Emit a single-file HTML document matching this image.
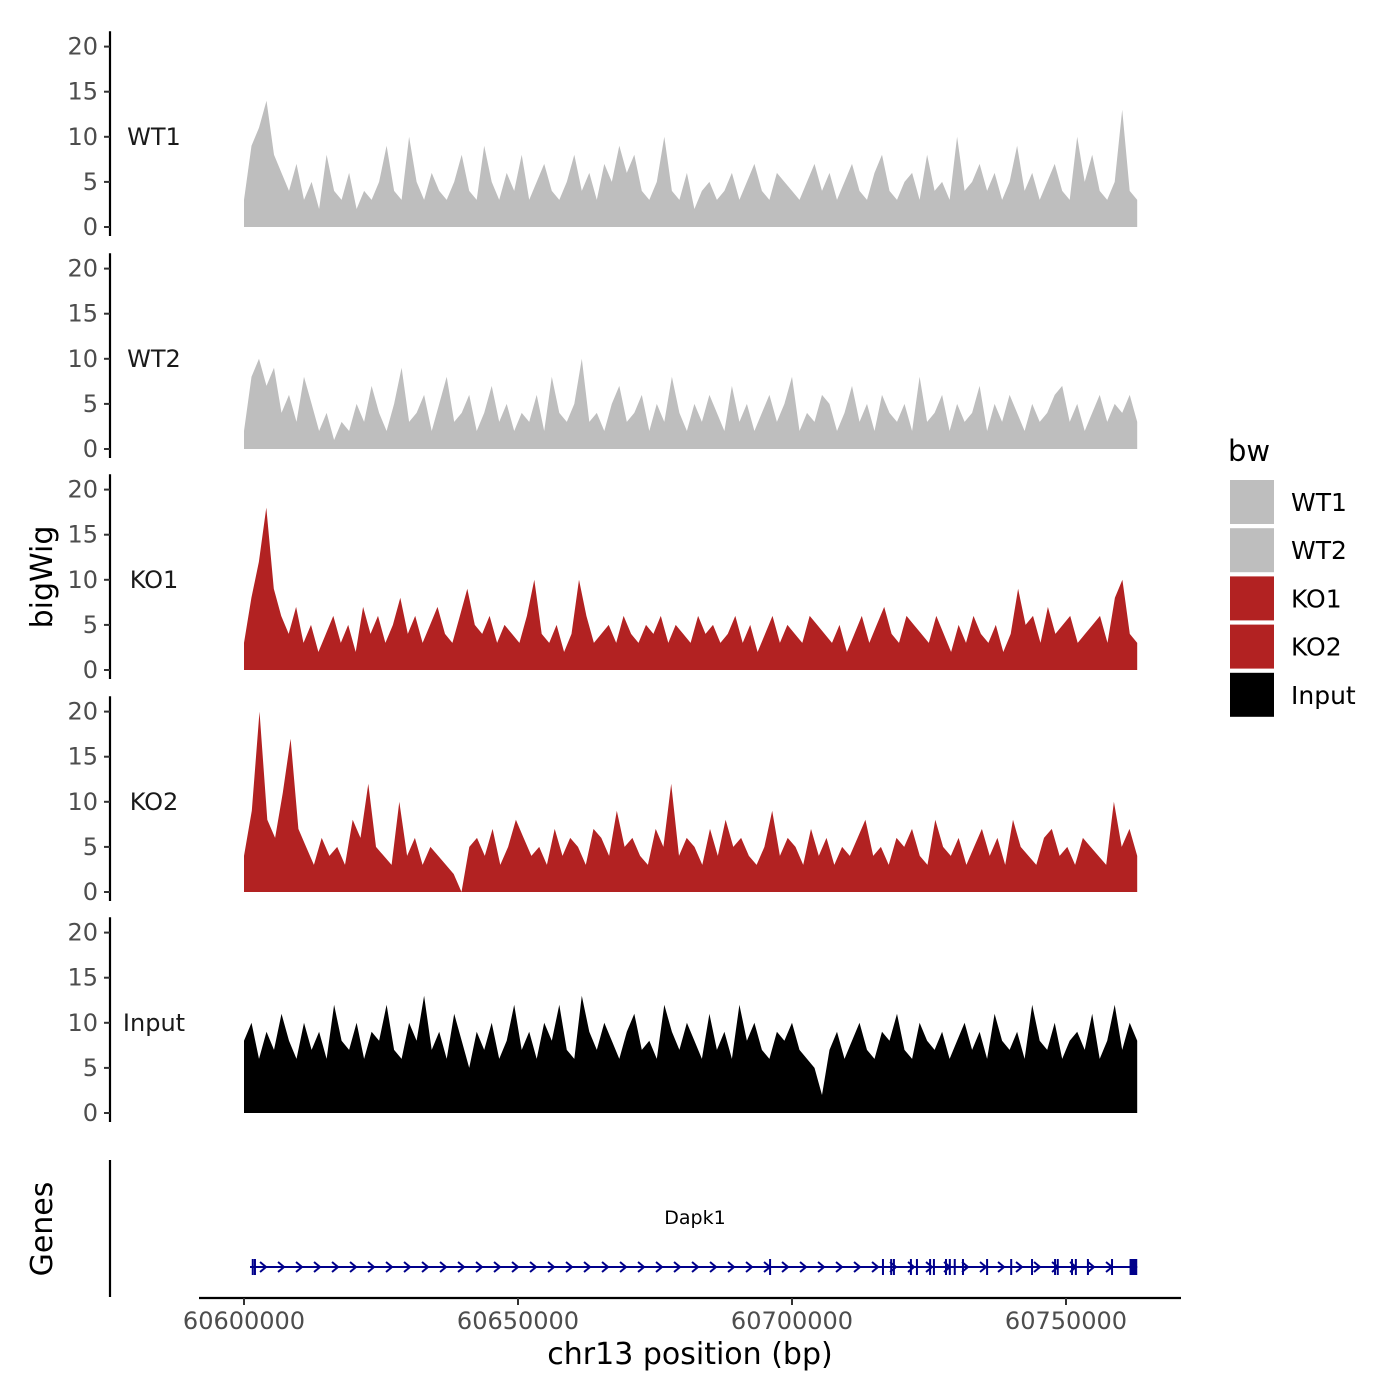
<!DOCTYPE html>
<html><head><meta charset="utf-8">
<style>
body{margin:0;background:#fff;}
svg{display:block;font-family:"DejaVu Sans","Liberation Sans",sans-serif;}
</style></head>
<body>
<svg id="chart" width="1400" height="1400" viewBox="0 0 1400 1400" xmlns="http://www.w3.org/2000/svg">
<rect width="1400" height="1400" fill="#fff"/>
<g id="tracks"></g>
<g id="genes"></g>
<text transform="translate(52,577) rotate(-90)" text-anchor="middle" font-size="30">bigWig</text>
<text transform="translate(52,1229) rotate(-90)" text-anchor="middle" font-size="30">Genes</text>
<text x="690" y="1364" text-anchor="middle" font-size="30">chr13 position (bp)</text>
<g id="legend"></g>
</svg>
<script>
const trackNames = ["WT1","WT2","KO1","KO2","Input"];
const trackColors = ["#bebebe","#bebebe","#b22222","#b22222","#000000"];
const yTicks = [0,5,10,15,20];
const xTicks = [60600000,60650000,60700000,60750000];
const xStart = 60600000, xEnd = 60763000;
const wt1 = [3,9,11,14,8,6,4,7,3,5,2,8,4,3,6,2,4,3,5,9,4,3,10,5,3,6,4,3,5,8,4,3,9,5,3,6,4,8,3,5,7,4,3,5,8,4,6,3,7,5,9,6,8,4,3,5,10,4,3,6,2,4,5,3,4,6,3,5,7,4,3,6,5,4,3,5,7,4,6,3,5,7,4,3,6,8,4,3,5,6,3,8,4,5,3,10,4,5,7,4,6,3,5,9,4,6,3,5,7,4,3,10,5,8,4,3,5,13,4,3];
const wt2 = [2,8,10,7,9,4,6,3,8,5,2,4,1,3,2,5,3,7,4,2,5,9,3,4,6,2,5,8,3,4,6,2,4,7,3,5,2,4,3,6,2,8,4,3,5,10,3,4,2,5,7,3,4,6,2,5,3,8,4,2,5,3,6,4,2,7,3,5,2,4,6,3,5,8,2,4,3,6,5,2,4,7,3,5,2,6,4,3,5,2,8,3,4,6,2,5,3,4,7,2,5,3,6,4,2,5,3,4,6,7,3,5,2,4,6,3,5,4,6,3];
const ko1 = [3,8,12,18,9,6,4,7,3,5,2,4,6,3,5,2,7,4,6,3,5,8,4,6,3,5,7,4,3,6,9,5,4,6,3,5,4,3,6,10,4,3,5,2,4,10,6,3,4,5,3,6,4,3,5,4,6,3,5,4,3,6,4,5,3,4,6,3,5,2,4,6,3,5,4,3,6,5,4,3,5,2,4,6,3,5,7,4,3,6,5,4,3,6,4,2,5,3,6,4,3,5,2,4,9,5,6,3,7,4,5,6,3,4,5,6,3,8,10,4,3];
const ko2 = [4,9,20,8,6,11,17,7,5,3,6,4,5,3,8,6,12,5,4,3,10,4,6,3,5,4,3,2,0,5,6,4,7,3,5,8,6,4,5,3,7,4,6,5,3,7,6,4,9,5,6,4,3,7,5,12,4,6,5,3,7,4,8,5,6,4,3,5,9,4,6,5,3,7,4,6,3,5,4,6,8,4,5,3,6,5,7,4,3,8,5,4,6,3,5,7,4,6,3,8,5,4,3,6,7,4,5,3,6,5,4,3,10,5,7,4];
const inp = [8,10,6,9,7,11,8,6,10,7,9,6,12,8,7,10,6,9,8,12,7,6,10,8,13,7,9,6,11,8,5,9,7,10,6,8,12,7,9,6,10,8,12,7,6,13,9,7,10,8,6,9,11,7,8,6,12,9,7,10,8,6,11,7,9,6,12,8,10,7,6,9,8,10,7,6,5,2,7,9,6,8,10,7,6,9,8,11,7,6,10,8,7,9,6,8,10,7,9,6,11,8,7,9,6,12,8,7,10,6,8,9,7,11,6,8,12,7,10,8];
const trackData = [wt1,wt2,ko1,ko2,inp];
const exonStarts = [60601600,60602000,60696000,60716600,60718100,60718600,60721700,60722800,60725200,60725900,60728100,60728800,60729700,60731200,60735600,60740000,60743800,60748000,60748500,60751100,60751800,60754000,60758400];
const geneStart = 60601100, geneEnd = 60763000, bigExon = [60761600,60763000];

const NS="http://www.w3.org/2000/svg";
function mk(t,a,p){const e=document.createElementNS(NS,t);for(const k in a)e.setAttribute(k,a[k]);p.appendChild(e);return e;}
const xs = v => 244 + (v - xStart) * 0.00548;
const tracksG=document.getElementById('tracks');
const zeros=[227,449,670,892,1113];
const ppu=9.02;
trackNames.forEach((name,i)=>{
  const y0=zeros[i];
  const ys=v=>y0-v*ppu;
  const g=mk('g',{},tracksG);
  
  
  const d=trackData[i];
  let p='M244,'+y0;
  d.forEach((v,j)=>{const x=xs(xStart+(xEnd-xStart)*j/(d.length-1));p+=' L'+x.toFixed(1)+','+ys(v).toFixed(1);});
  p+=' L'+xs(xEnd).toFixed(1)+','+y0+' Z';
  const a=mk('path',{d:p,fill:trackColors[i]},g);
  
  
  const ax=mk('line',{x1:110,x2:110,y1:ys(21.7),y2:y0+9,stroke:'#000','stroke-width':2.2},g);
  
  
  yTicks.forEach(t=>{
    mk('line',{x1:104,x2:110,y1:ys(t),y2:ys(t),stroke:'#333','stroke-width':2},g);
    const tl=mk('text',{x:98,y:ys(t)+8,'text-anchor':'end','font-size':24,fill:'#4d4d4d'},g);
    tl.textContent=t;
    
    
  });
  const lb=mk('text',{x:154,y:ys(10)+8,'text-anchor':'middle','font-size':24,fill:'#1a1a1a'},g);
  lb.textContent=name;
  
  
});
const gg=document.getElementById('genes');
const gy=1267;
mk('line',{x1:110,x2:110,y1:1160,y2:1297,stroke:'#000','stroke-width':2.2},gg);
mk('line',{x1:199,x2:1181,y1:1298,y2:1298,stroke:'#000','stroke-width':2.2},gg);
xTicks.forEach(t=>{
  mk('line',{x1:xs(t),x2:xs(t),y1:1298,y2:1305,stroke:'#333','stroke-width':2},gg);
  const tl=mk('text',{x:xs(t),y:1329,'text-anchor':'middle','font-size':24,fill:'#4d4d4d'},gg);
  tl.textContent=t;
  
  
});
const gl=mk('line',{x1:xs(geneStart),x2:xs(geneEnd),y1:gy,y2:gy,stroke:'#00008b','stroke-width':2},gg);


for(let x=xs(geneStart)+14;x<xs(bigExon[0])-5;x+=18){
  mk('path',{d:`M${x-4},${gy-5} L${x+2},${gy} L${x-4},${gy+5}`,stroke:'#00008b','stroke-width':2,fill:'none'},gg);
}
exonStarts.forEach(s=>{
  const e=mk('rect',{x:xs(s)-1,y:gy-8,width:2,height:16,fill:'#00008b'},gg);
  
  
});
mk('rect',{x:xs(bigExon[0]),y:gy-8,width:xs(bigExon[1])-xs(bigExon[0]),height:16,fill:'#00008b'},gg);
const gn=mk('text',{x:695,y:1224,'text-anchor':'middle','font-size':19},gg);
gn.textContent='Dapk1';


const lg=document.getElementById('legend');
const lt=mk('text',{x:1228,y:461,'font-size':29},lg);
lt.textContent='bw';


trackNames.forEach((n,i)=>{
  const y=480+i*48.2;
  const k=mk('rect',{x:1230,y:y,width:44,height:44,fill:trackColors[i]},lg);
  
  
  const t=mk('text',{x:1291,y:y+31,'font-size':25},lg);
  t.textContent=n;
  
  
});
</script>
</body></html>
